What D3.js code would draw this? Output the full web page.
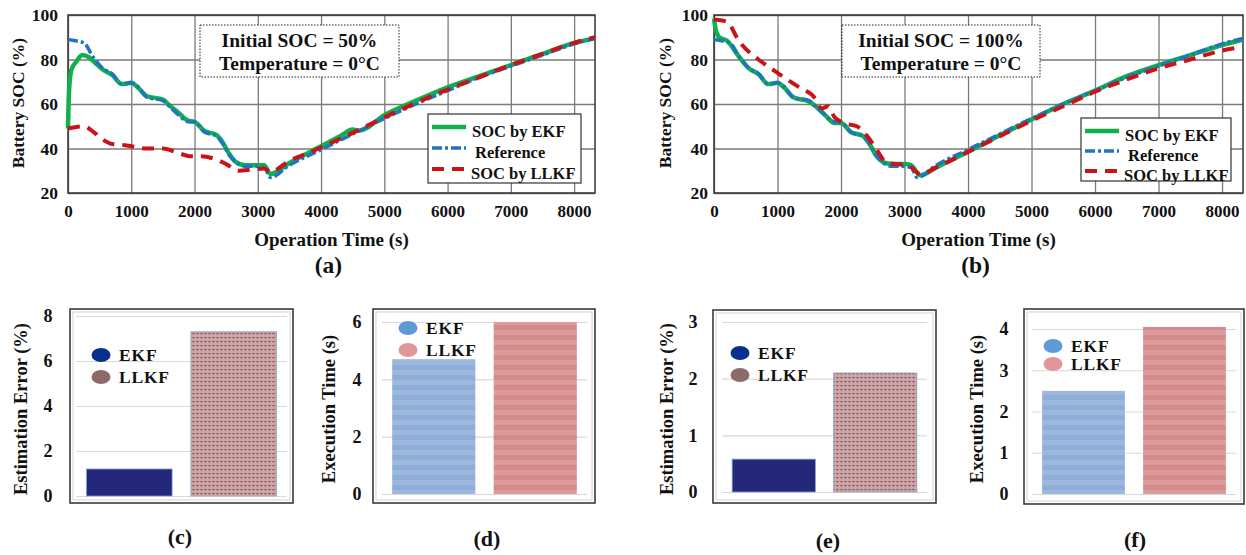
<!DOCTYPE html>
<html>
<head>
<meta charset="utf-8">
<script src="https://cdn.jsdelivr.net/npm/d3@7"></script>
<style>
  body { margin: 0; background: #fff; }
  text { font-family: "Liberation Serif", "Times New Roman", serif; font-weight: bold; fill: #111; }
</style>
</head>
<body>
<script>
// ---- data ----
const refTime = [0, 100, 250, 400, 550, 700, 850, 1000, 1100, 1250, 1500, 1600, 1750, 1900, 2000, 2150, 2350, 2450, 2550, 2650, 2800, 2950, 3100, 3200, 3500, 4000, 4500, 5000, 5500, 6000, 6500, 7000, 7500, 8000, 8330];
const refSoc = [89, 88.5, 87.5, 81, 76, 73.5, 69, 69.5, 68, 63, 61.5, 59, 55, 52, 52, 47.5, 45.5, 42, 37, 34, 32, 32, 31.5, 27, 32.5, 39.5, 46.5, 53.5, 60, 66, 72, 77, 82, 87, 89.5];

const ekfTimeA = [0, 15, 50, 130, 230, 330, 450, 550, 700, 850, 1000, 1100, 1250, 1500, 1600, 1750, 1900, 2000, 2150, 2350, 2450, 2550, 2650, 2800, 2950, 3100, 3200, 3500, 4000, 4300, 4500, 4600, 5000, 5500, 6000, 6500, 7000, 7500, 8000, 8330];
const ekfSocA  = [49, 65, 75, 79, 82, 81, 78, 75.5, 73, 69, 69.5, 67.5, 63.5, 62, 59.5, 56, 52.5, 52, 48, 46, 42.5, 37.5, 34, 32.5, 32.5, 32.5, 28.5, 33.5, 41, 45.5, 48.5, 48, 55, 61.5, 67.5, 72.5, 77.5, 82.5, 87.5, 89.5];

const llkfTimeA = [0, 250, 400, 550, 700, 900, 1000, 1250, 1500, 1700, 1950, 2100, 2300, 2500, 2700, 2900, 3100, 3200, 3500, 3800, 4000, 4500, 5000, 5500, 6000, 6500, 7000, 7500, 8000, 8330];
const llkfSocA  = [49, 50, 47.5, 44, 42, 41.5, 41, 40, 40, 38.5, 36.5, 36.5, 35.5, 33, 30, 30.5, 31, 29.5, 34.5, 38, 40.5, 47, 54, 60.5, 66.5, 72, 77.5, 82.5, 87.5, 90];

const ekfTimeB = [0, 30, 80, 200, 400, 550, 700, 850, 1000, 1100, 1250, 1500, 1600, 1750, 1900, 2000, 2150, 2350, 2450, 2550, 2700, 2850, 3000, 3100, 3250, 3500, 4000, 4500, 5000, 5500, 6000, 6500, 7000, 7500, 8000, 8330];
const ekfSocB  = [98.5, 93, 90, 88.5, 81, 76, 73.5, 69, 69.5, 67.5, 63, 61, 59, 55, 51.5, 51.5, 47.5, 45.5, 42, 37, 33.5, 33, 33, 32.5, 28, 31.5, 38.5, 46, 53, 60, 66, 72.5, 77.5, 82, 86.5, 89];

const llkfTimeB = [0, 200, 400, 700, 900, 1100, 1400, 1550, 1700, 1800, 1900, 2100, 2250, 2400, 2550, 2700, 2850, 3050, 3250, 3500, 4000, 4500, 5000, 5500, 6000, 6500, 7000, 7500, 8000, 8300];
const llkfSocB  = [98, 97, 88, 80, 76, 72, 66.5, 64, 58, 59, 54, 51, 50, 46, 40, 34, 33, 32.5, 28.5, 31.5, 38.5, 45.5, 52.5, 59, 65.5, 71, 76, 80, 84, 85.5];

const timeTicks = [0, 1000, 2000, 3000, 4000, 5000, 6000, 7000, 8000];
const socTicks = [20, 40, 60, 80, 100];

const methods = ["EKF", "LLKF"];
const errorC = [1.2, 7.3];
const timeD  = [4.7, 6.0];
const errorE = [0.58, 2.1];
const timeF  = [2.5, 4.05];
const ticksC = [0, 2, 4, 6, 8];
const ticksD = [0, 2, 4, 6];
const ticksE = [0, 1, 2, 3];
const ticksF = [0, 1, 2, 3, 4];

// ---- page ----
const svg = d3.select("body").append("svg")
    .attr("width", 1246)
    .attr("height", 555);
svg.append("rect").attr("width", 1246).attr("height", 555).attr("fill", "#fff");

const defs = svg.append("defs");

// dotted fill for LLKF error bars
const dots = defs.append("pattern")
    .attr("id", "dots").attr("patternUnits", "userSpaceOnUse")
    .attr("width", 4).attr("height", 4);
dots.append("rect").attr("width", 4).attr("height", 4).attr("fill", "#c4a8aa");
dots.append("rect").attr("x", 0.5).attr("y", 1).attr("width", 2).attr("height", 1.2).attr("fill", "#a8343a");

// striped fills for execution time bars
function stripes(id, light, dark) {
    const p = defs.append("pattern")
        .attr("id", id).attr("patternUnits", "userSpaceOnUse")
        .attr("width", 10).attr("height", 10);
    p.append("rect").attr("width", 10).attr("height", 10).attr("fill", light);
    p.append("rect").attr("y", 5).attr("width", 10).attr("height", 5).attr("fill", dark);
}
stripes("blueStripe", "#9cb8df", "#8eaed8");
stripes("redStripe", "#dd9c9c", "#d68b8b");

const toPts = (ts, vs) => ts.map((t, i) => [t, vs[i]]);

function styleTicks(a, size) {
    a.selectAll("text")
        .attr("font-size", size)
        .attr("font-family", "Liberation Serif")
        .attr("font-weight", "bold")
        .attr("fill", "#111");
}

function socPanel(o) {
    const x = d3.scaleLinear().domain([0, 8330]).range([o.left, o.right]);
    const y = d3.scaleLinear().domain([20, 100]).range([193, 15]);
    const g = svg.append("g");

    g.append("g")
        .attr("transform", "translate(0,193)")
        .call(d3.axisBottom(x).tickValues(timeTicks).tickSize(-178).tickPadding(12).tickFormat(d3.format("d")))
        .call(a => a.select(".domain").remove())
        .call(a => a.selectAll("line").attr("stroke", "#7a7a7a").attr("stroke-width", 1.3))
        .call(a => styleTicks(a, 17));

    g.append("g")
        .attr("transform", `translate(${o.left},0)`)
        .call(d3.axisLeft(y).tickValues(socTicks).tickSize(-(o.right - o.left)).tickPadding(o.yPad))
        .call(a => a.select(".domain").remove())
        .call(a => a.selectAll("line").attr("stroke", "#7a7a7a").attr("stroke-width", 1.3))
        .call(a => styleTicks(a, 17.5));

    g.append("rect")
        .attr("x", o.left).attr("y", 15)
        .attr("width", o.right - o.left).attr("height", 178)
        .attr("fill", "none").attr("stroke", "#333").attr("stroke-width", 1.5);

    const line = d3.line().x(d => x(d[0])).y(d => y(d[1])).curve(d3.curveMonotoneX);

    g.append("path").datum(o.ekf)
        .attr("d", line).attr("fill", "none")
        .attr("stroke", "#10b04a").attr("stroke-width", 4.5);
    g.append("path").datum(toPts(refTime, refSoc))
        .attr("d", line).attr("fill", "none")
        .attr("stroke", "#1f74c4").attr("stroke-width", 3.5)
        .attr("stroke-dasharray", "10,3,3,3");
    g.append("path").datum(o.llkf)
        .attr("d", line).attr("fill", "none")
        .attr("stroke", "#c81418").attr("stroke-width", 4)
        .attr("stroke-dasharray", "12,8");

    // info box
    g.append("rect")
        .attr("x", o.box[0]).attr("y", 25)
        .attr("width", o.box[1] - o.box[0]).attr("height", 52)
        .attr("fill", "#fff").attr("stroke", "#222").attr("stroke-width", 1)
        .attr("stroke-dasharray", "1.5,1.5");
    const bc = (o.box[0] + o.box[1]) / 2;
    g.append("text").attr("x", bc).attr("y", 47).attr("text-anchor", "middle")
        .attr("font-size", 19.5).text(o.note);
    g.append("text").attr("x", bc).attr("y", 70).attr("text-anchor", "middle")
        .attr("font-size", 19.5).text("Temperature = 0\u00b0C");

    // legend
    const L = o.legend;
    g.append("rect")
        .attr("x", L.x).attr("y", L.y).attr("width", L.w).attr("height", L.h)
        .attr("fill", "#fff").attr("stroke", "#333").attr("stroke-width", 1.2);
    const items = [
        { label: "SOC by EKF", color: "#10b04a", w: 4.5, dash: null, dx: 0 },
        { label: "Reference", color: "#1f74c4", w: 3.5, dash: "10,3,3,3", dx: 3 },
        { label: "SOC by LLKF", color: "#c81418", w: 4, dash: "12,8", dx: -1 }
    ];
    items.forEach((it, i) => {
        const ly = L.y + 13 + i * L.gap;
        g.append("line")
            .attr("x1", L.x + 4).attr("x2", L.x + 38)
            .attr("y1", ly).attr("y2", ly)
            .attr("stroke", it.color).attr("stroke-width", it.w)
            .attr("stroke-dasharray", it.dash);
        g.append("text")
            .attr("x", L.x + 44 + it.dx).attr("y", ly + 10)
            .attr("font-size", 16.5).text(it.label);
    });

    const mid = (o.left + o.right) / 2;
    g.append("text").attr("x", mid).attr("y", 246).attr("text-anchor", "middle")
        .attr("font-size", 19).text("Operation Time (s)");
    g.append("text").attr("x", mid - 3).attr("y", 273).attr("text-anchor", "middle")
        .attr("font-size", 23.5).text(o.tag);
    g.append("text")
        .attr("transform", `translate(${o.yTitleX},103) rotate(-90)`)
        .attr("text-anchor", "middle").attr("font-size", 17.5).text("Battery SOC (%)");
}

socPanel({
    left: 68, right: 595, yPad: 10, yTitleX: 24,
    ekf: toPts(ekfTimeA, ekfSocA), llkf: toPts(llkfTimeA, llkfSocA),
    box: [200, 399], note: "Initial SOC = 50%",
    legend: { x: 428, y: 114, w: 153, h: 69, gap: 21 }, tag: "(a)"
});
socPanel({
    left: 714, right: 1243, yPad: 6, yTitleX: 671,
    ekf: toPts(ekfTimeB, ekfSocB), llkf: toPts(llkfTimeB, llkfSocB),
    box: [842, 1040], note: "Initial SOC = 100%",
    legend: { x: 1081, y: 118, w: 150, h: 63, gap: 20 }, tag: "(b)"
});

function barPanel(o) {
    const max = o.ticks[o.ticks.length - 1];
    const x = d3.scaleBand().domain(methods).range([o.gx0, o.gx1]).paddingInner(0.18).paddingOuter(0.1);
    const y = d3.scaleLinear().domain([0, max]).range([o.y0, o.y1]);
    const g = svg.append("g");

    g.append("rect")
        .attr("x", o.fx0).attr("y", o.fy0)
        .attr("width", o.fx1 - o.fx0).attr("height", o.fy1 - o.fy0)
        .attr("fill", "#fff").attr("stroke", "#3a3a3a").attr("stroke-width", 1.6);
    g.append("rect")
        .attr("x", o.fx0 + 3).attr("y", o.fy0 + 3)
        .attr("width", o.fx1 - o.fx0 - 6).attr("height", o.fy1 - o.fy0 - 6)
        .attr("fill", "none").attr("stroke", "#d4d4d4").attr("stroke-width", 1);

    g.append("g")
        .attr("transform", `translate(${o.gx0},0)`)
        .call(d3.axisLeft(y).tickValues(o.ticks).tickFormat(d3.format("d")).tickSize(-(o.gx1 - o.gx0)).tickPadding(o.gx0 - o.labelX))
        .call(a => a.select(".domain").remove())
        .call(a => a.selectAll("line").attr("stroke", "#d9d9d9").attr("stroke-width", 1.2))
        .call(a => styleTicks(a, 18))
        .call(a => a.selectAll("text").attr("text-anchor", "middle"));

    g.selectAll(".bar").data(o.values).enter().append("rect")
        .attr("x", (d, i) => x(methods[i]))
        .attr("y", d => y(d))
        .attr("width", x.bandwidth())
        .attr("height", d => o.y0 - y(d))
        .attr("fill", (d, i) => o.fills[i])
        .attr("stroke", (d, i) => o.strokes[i]).attr("stroke-width", 0.8);

    methods.forEach((m, i) => {
        const ly = o.legY + i * o.legGap;
        g.append("ellipse")
            .attr("cx", o.legX).attr("cy", ly).attr("rx", 9.5).attr("ry", 7)
            .attr("fill", o.dotColors[i]);
        g.append("text").attr("x", o.legX + 18).attr("y", ly + 6)
            .attr("font-size", 17.5).attr("letter-spacing", 0.8).text(m);
    });

    g.append("text")
        .attr("transform", `translate(${o.titleX},409) rotate(-90)`)
        .attr("text-anchor", "middle").attr("font-size", 18.5).text(o.title);
    g.append("text").attr("x", o.tagX).attr("y", o.tagY).attr("text-anchor", "middle")
        .attr("font-size", 22).text(o.tag);
}

barPanel({
    values: errorC, ticks: ticksC, gx0: 76, gx1: 287, y0: 496, y1: 316, labelX: 48,
    fx0: 70, fx1: 293, fy0: 309, fy1: 503,
    fills: ["#25287a", "url(#dots)"], strokes: ["#7da3c9", "#8fa6c4"],
    dotColors: ["#0a2f8e", "#8d6a68"], legX: 101, legY: 355, legGap: 22,
    title: "Estimation Error (%)", titleX: 27, tag: "(c)", tagX: 180, tagY: 544
});
barPanel({
    values: timeD, ticks: ticksD, gx0: 382, gx1: 587, y0: 494, y1: 322, labelX: 357,
    fx0: 373, fx1: 595, fy0: 309, fy1: 503,
    fills: ["url(#blueStripe)", "url(#redStripe)"], strokes: ["none", "none"],
    dotColors: ["#5e9bd6", "#e09797"], legX: 408, legY: 328, legGap: 22,
    title: "Execution Time (s)", titleX: 335, tag: "(d)", tagX: 487, tagY: 546
});
barPanel({
    values: errorE, ticks: ticksE, gx0: 722, gx1: 927, y0: 492, y1: 322, labelX: 693,
    fx0: 713, fx1: 936, fy0: 310, fy1: 503,
    fills: ["#25287a", "url(#dots)"], strokes: ["#7da3c9", "#8fa6c4"],
    dotColors: ["#0a2f8e", "#8d6a68"], legX: 740, legY: 353, legGap: 22,
    title: "Estimation Error (%)", titleX: 673, tag: "(e)", tagX: 828, tagY: 548
});
barPanel({
    values: timeF, ticks: ticksF, gx0: 1032, gx1: 1236, y0: 494, y1: 329, labelX: 1004,
    fx0: 1024, fx1: 1244, fy0: 309, fy1: 504,
    fills: ["url(#blueStripe)", "url(#redStripe)"], strokes: ["none", "none"],
    dotColors: ["#5e9bd6", "#e09797"], legX: 1053, legY: 346, legGap: 18,
    title: "Execution Time (s)", titleX: 983, tag: "(f)", tagX: 1135, tagY: 547
});
</script>
</body>
</html>
